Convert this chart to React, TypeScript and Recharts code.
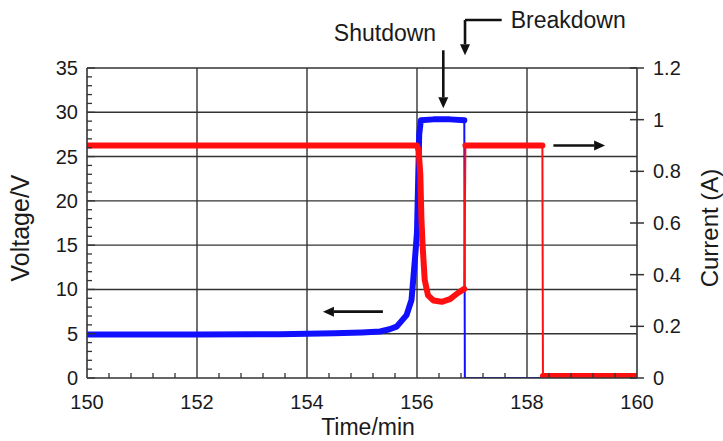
import React from "react";
import {
  LineChart,
  Line,
  XAxis,
  YAxis,
  CartesianGrid,
  ReferenceLine,
  ReferenceDot,
  Label,
} from "recharts";

// axis ticks (labelled)
const timeMajor = [150, 152, 154, 156, 158, 160];
const voltMajor = [0, 5, 10, 15, 20, 25, 30, 35];
const currMajor = [0, 0.2, 0.4, 0.6, 0.8, 1, 1.2];

// voltage (V), blue, left axis
const voltTime = [150, 152, 153.5, 154.5, 155, 155.33, 155.5, 155.63, 155.81, 155.9, 155.93, 155.97, 156.0, 156.02, 156.04, 156.07, 156.3, 156.6, 156.86, 156.87, 160];
const voltage = [4.9, 4.9, 4.95, 5.05, 5.15, 5.25, 5.5, 5.8, 7.1, 8.8, 11, 14, 16.5, 22, 27.5, 29.1, 29.2, 29.2, 29.1, 0, 0];

// current (A), red, right axis; null = no samples during the jump
const currTime = [150, 152, 154, 155.5, 156.0, 156.03, 156.06, 156.08, 156.1, 156.14, 156.2, 156.3, 156.45, 156.6, 156.75, 156.86, 156.87, 156.88, 157.5, 158.28, 158.285, 158.29, 160];
const current = [0.9, 0.9, 0.9, 0.9, 0.9, 0.88, 0.79, 0.62, 0.52, 0.38, 0.32, 0.3, 0.295, 0.305, 0.33, 0.345, null, 0.9, 0.9, 0.9, null, 0.008, 0.008];

const FONT = "'Liberation Sans', Arial, sans-serif";
const INK = "#1a1a1a";
const GRID = "#333";
const BLUE = "#1010ff";
const RED = "#ff1010";

const split = (major: number[], parts: number) =>
  major
    .slice(0, -1)
    .flatMap((m, i) =>
      Array.from({ length: parts }, (_, k) => +(m + (k * (major[i + 1] - m)) / parts).toFixed(3)),
    )
    .concat(major[major.length - 1]);

const xTicks = split(timeMajor, 5);
const vTicks = split(voltMajor, 5);

const voltRows = voltTime.map((t, i) => ({
  t,
  v: voltage[i],
  band: voltage[i] === 0 ? null : voltage[i],
}));
const currRows = currTime.map((t, i) => ({ t, c: current[i] }));

const BottomTick = (props: any) => {
  const { x, y, payload } = props;
  const major = timeMajor.includes(payload.value);
  return (
    <g>
      {!major && <line x1={x} x2={x} y1={y} y2={y - 5} stroke={GRID} strokeWidth={1.3} />}
      {major && (
        <text x={x} y={y + 24} textAnchor="middle" dominantBaseline="central" fontSize={20} fontFamily={FONT} fill={INK}>
          {payload.value}
        </text>
      )}
    </g>
  );
};

const LeftTick = (props: any) => {
  const { x, y, payload } = props;
  const major = voltMajor.includes(payload.value);
  return (
    <g>
      <line x1={x} x2={x + (major ? 8 : 5)} y1={y} y2={y} stroke={GRID} strokeWidth={1.3} />
      {major && (
        <text x={x - 9} y={y} textAnchor="end" dominantBaseline="central" fontSize={20} fontFamily={FONT} fill={INK}>
          {payload.value}
        </text>
      )}
    </g>
  );
};

const RightTick = (props: any) => {
  const { x, y, payload } = props;
  return (
    <g>
      <line x1={x - 7} x2={x + 7} y1={y} y2={y} stroke={GRID} strokeWidth={1.5} />
      <text x={x + 16} y={y} textAnchor="start" dominantBaseline="central" fontSize={20} fontFamily={FONT} fill={INK}>
        {payload.value}
      </text>
    </g>
  );
};

const Arrow = (props: any) => {
  const { x1, y1, x2, y2, head } = props;
  if ([x1, y1, x2, y2].some((n) => n == null || isNaN(n))) return <g />;
  const dx = x2 - x1;
  const dy = y2 - y1;
  const len = Math.hypot(dx, dy) || 1;
  const ux = dx / len;
  const uy = dy / len;
  const hl = 11;
  const hw = 5;
  const bx = x2 - ux * hl;
  const by = y2 - uy * hl;
  return (
    <g>
      <line x1={x1} y1={y1} x2={head ? bx : x2} y2={head ? by : y2} stroke="#111" strokeWidth={2.6} />
      {head && (
        <polygon
          points={`${x2},${y2} ${bx - uy * hw},${by + ux * hw} ${bx + uy * hw},${by - ux * hw}`}
          fill="#111"
        />
      )}
    </g>
  );
};

const XTitle = (props: any) => {
  const { viewBox } = props;
  return (
    <text x={viewBox.x + viewBox.width / 2 + 6} y={viewBox.y + 57} textAnchor="middle" fontSize={23} fontFamily={FONT} fill={INK}>
      Time/min
    </text>
  );
};

const LeftTitle = (props: any) => {
  const { viewBox } = props;
  const x = viewBox.x + 29;
  const y = viewBox.y + viewBox.height / 2 + 5;
  return (
    <text x={x} y={y} transform={`rotate(-90, ${x}, ${y})`} textAnchor="middle" fontSize={25} fontFamily={FONT} fill={INK}>
      Voltage/V
    </text>
  );
};

const RightTitle = (props: any) => {
  const { viewBox } = props;
  const x = viewBox.x + 81;
  const y = viewBox.y + viewBox.height / 2 + 5;
  return (
    <text x={x} y={y} transform={`rotate(-90, ${x}, ${y})`} textAnchor="middle" fontSize={24} fontFamily={FONT} fill={INK}>
      Current (A)
    </text>
  );
};

export default function App() {
  return (
    <div style={{ position: "absolute", left: 0, top: 0, background: "#fff" }}>
      <LineChart width={723} height={441} margin={{ top: 68, right: 0, bottom: 0, left: 0 }}>
        <CartesianGrid
          xAxisId="t"
          yAxisId="v"
          horizontalValues={[5, 10, 15, 20, 25, 30, 35]}
          verticalValues={[152, 154, 156, 158]}
          stroke={GRID}
          strokeWidth={1.4}
        />
        <XAxis
          xAxisId="t"
          type="number"
          dataKey="t"
          domain={[150, 160]}
          ticks={xTicks}
          interval={0}
          height={63}
          tickSize={0}
          tickMargin={0}
          tickLine={false}
          tick={<BottomTick />}
          axisLine={{ stroke: GRID, strokeWidth: 1.6 }}
          allowDataOverflow
        >
          <Label content={<XTitle />} />
        </XAxis>
        <YAxis
          yAxisId="v"
          orientation="left"
          type="number"
          domain={[0, 35]}
          ticks={vTicks}
          interval={0}
          width={87}
          tickSize={0}
          tickMargin={0}
          tickLine={false}
          tick={<LeftTick />}
          axisLine={{ stroke: GRID, strokeWidth: 1.6 }}
          allowDataOverflow
        >
          <Label content={<LeftTitle />} />
        </YAxis>
        <YAxis
          yAxisId="c"
          orientation="right"
          type="number"
          domain={[0, 1.2]}
          ticks={currMajor}
          interval={0}
          width={86}
          tickSize={0}
          tickMargin={0}
          tickLine={false}
          tick={<RightTick />}
          axisLine={{ stroke: GRID, strokeWidth: 1.6 }}
          allowDataOverflow
        >
          <Label content={<RightTitle />} />
        </YAxis>

        {/* voltage */}
        <Line data={voltRows} xAxisId="t" yAxisId="v" dataKey="v" type="linear" stroke={BLUE} strokeWidth={2} dot={false} connectNulls isAnimationActive={false} />
        <Line data={voltRows} xAxisId="t" yAxisId="v" dataKey="band" type="linear" stroke={BLUE} strokeWidth={6} strokeLinejoin="round" strokeLinecap="round" dot={false} isAnimationActive={false} />

        {/* current */}
        <Line data={currRows} xAxisId="t" yAxisId="c" dataKey="c" type="linear" stroke={RED} strokeWidth={2} dot={false} connectNulls isAnimationActive={false} />
        <Line data={currRows} xAxisId="t" yAxisId="c" dataKey="c" type="linear" stroke={RED} strokeWidth={6} strokeLinejoin="round" strokeLinecap="round" dot={false} isAnimationActive={false} />

        {/* annotations */}
        <ReferenceLine xAxisId="t" yAxisId="v" ifOverflow="visible" segment={[{ x: 156.478, y: 37.0 }, { x: 156.478, y: 30.45 }]} shape={(p: any) => <Arrow {...p} head />} />
        <ReferenceLine xAxisId="t" yAxisId="v" ifOverflow="visible" segment={[{ x: 157.54, y: 40.42 }, { x: 156.873, y: 40.42 }]} shape={(p: any) => <Arrow {...p} />} />
        <ReferenceLine xAxisId="t" yAxisId="v" ifOverflow="visible" segment={[{ x: 156.873, y: 40.42 }, { x: 156.873, y: 36.45 }]} shape={(p: any) => <Arrow {...p} head />} />
        <ReferenceLine xAxisId="t" yAxisId="v" ifOverflow="visible" segment={[{ x: 155.38, y: 7.49 }, { x: 154.29, y: 7.49 }]} shape={(p: any) => <Arrow {...p} head />} />
        <ReferenceLine xAxisId="t" yAxisId="c" ifOverflow="visible" segment={[{ x: 158.48, y: 0.9 }, { x: 159.42, y: 0.9 }]} shape={(p: any) => <Arrow {...p} head />} />
        <ReferenceDot xAxisId="t" yAxisId="v" x={155.418} y={38.95} r={0} fill="none" stroke="none" ifOverflow="visible" label={{ value: "Shutdown", position: "center", fontSize: 23, fontFamily: FONT, fill: INK }} />
        <ReferenceDot xAxisId="t" yAxisId="v" x={158.75} y={40.48} r={0} fill="none" stroke="none" ifOverflow="visible" label={{ value: "Breakdown", position: "center", fontSize: 23, fontFamily: FONT, fill: INK }} />
      </LineChart>
    </div>
  );
}
